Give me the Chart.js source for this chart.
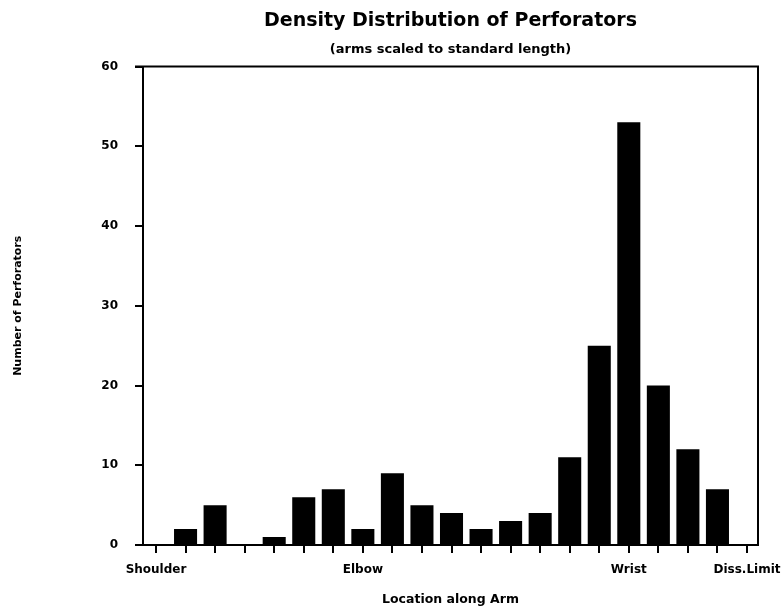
<!DOCTYPE html>
<html>
<head>
<meta charset="utf-8">
<script src="https://cdn.jsdelivr.net/npm/chart.js@4.4.1/dist/chart.umd.min.js"></script>
<style>
  html, body { margin: 0; padding: 0; background: #ffffff; }
  #wrap { width: 784px; height: 611px; }
</style>
</head>
<body>
<div id="wrap"><canvas id="c" width="784" height="611"></canvas></div>
<script>
// Tick labels along the arm (21 tick positions, bars sit on ticks 1..19)
const binLabels = ['Shoulder', '', '', '', '', '', '', 'Elbow', '', '', '', '', '', '', '', '', 'Wrist', '', '', '', 'Diss.Limit'];
// Number of perforators in each bin (bins 1..19)
const counts = [2, 5, 0, 1, 6, 7, 2, 9, 5, 4, 2, 3, 4, 11, 25, 53, 20, 12, 7];
const yTicks = [0, 10, 20, 30, 40, 50, 60];

const titleText = 'Density Distribution of Perforators';
const subtitleText = '(arms scaled to standard length)';
const xTitle = 'Location along Arm';
const yTitle = 'Number of Perforators';

const FONT = "'DejaVu Sans', sans-serif";

const framePlugin = {
  id: 'frame',
  afterDraw(chart) {
    const { ctx, chartArea: a } = chart;
    ctx.save();
    ctx.strokeStyle = '#000';
    ctx.lineWidth = 2;
    ctx.beginPath();
    ctx.moveTo(a.left - 8, a.top);
    ctx.lineTo(a.right, a.top);
    ctx.lineTo(a.right, a.bottom);
    ctx.stroke();
    ctx.restore();
  }
};

new Chart(document.getElementById('c'), {
  type: 'bar',
  data: {
    datasets: [{
      data: counts.map((v, i) => ({ x: i + 1, y: v })),
      backgroundColor: '#000000',
      borderWidth: 0,
      barPercentage: 0.78,
      categoryPercentage: 1.0
    }]
  },
  options: {
    responsive: false,
    animation: false,
    devicePixelRatio: 1,
    layout: { padding: { left: 0, right: 26, top: 0, bottom: 0 } },
    plugins: {
      legend: { display: false },
      tooltip: { enabled: false },
      title: {
        display: true,
        text: titleText,
        fullSize: false,
        color: '#000',
        font: { family: FONT, size: 19, weight: 'bold', lineHeight: 1.2 },
        padding: { top: 9.6, bottom: 0 }
      },
      subtitle: {
        display: true,
        text: subtitleText,
        fullSize: false,
        color: '#000',
        font: { family: FONT, size: 13, weight: 'bold', lineHeight: 1.2 },
        padding: { top: 9.5, bottom: 9 }
      }
    },
    scales: {
      x: {
        type: 'linear',
        offset: false,
        min: -0.44,
        max: 20.372,
        afterBuildTicks: (axis) => { axis.ticks = binLabels.map((_, i) => ({ value: i })); },
        afterFit: (scale) => { scale.height = 66; scale.paddingLeft = 0; scale.paddingRight = 0; },
        ticks: {
          autoSkip: false,
          maxRotation: 0,
          minRotation: 0,
          padding: 10,
          color: '#000',
          font: { family: FONT, size: 12, weight: 'bold' },
          callback: (value, index) => binLabels[index]
        },
        grid: {
          offset: false,
          drawOnChartArea: false,
          drawTicks: true,
          tickLength: 8,
          color: '#000',
          lineWidth: 2
        },
        border: { display: true, color: '#000', width: 2 },
        title: {
          display: true,
          text: xTitle,
          color: '#000',
          font: { family: FONT, size: 12.5, weight: 'bold', lineHeight: 1.2 },
          padding: { top: 0, bottom: 3.5 }
        }
      },
      y: {
        min: 0,
        max: 60,
        afterBuildTicks: (axis) => { axis.ticks = yTicks.map(v => ({ value: v })); },
        afterFit: (scale) => { scale.width = 143; },
        ticks: {
          padding: 17,
          color: '#000',
          font: { family: FONT, size: 12, weight: 'bold' }
        },
        grid: {
          drawOnChartArea: false,
          drawTicks: true,
          tickLength: 8,
          color: '#000',
          lineWidth: 2
        },
        border: { display: true, color: '#000', width: 2 },
        title: {
          display: true,
          text: yTitle,
          color: '#000',
          font: { family: FONT, size: 11, weight: 'bold', lineHeight: 1.2 },
          padding: { top: 11.4, bottom: 0 }
        }
      }
    }
  },
  plugins: [framePlugin]
});
</script>
</body>
</html>
